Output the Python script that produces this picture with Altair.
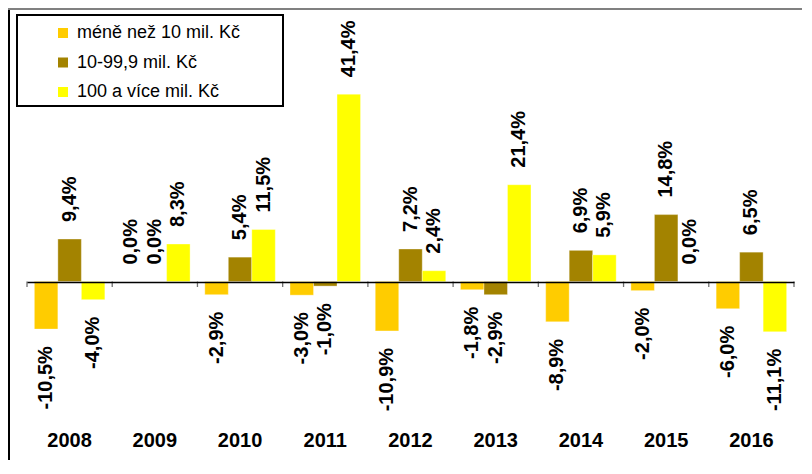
import altair as alt
import pandas as pd

years = ['2008', '2009', '2010', '2011', '2012', '2013', '2014', '2015', '2016']
series = ['méně než 10 mil. Kč', '10-99,9 mil. Kč', '100 a více mil. Kč']
small = [-10.5, 0.0, -2.9, -3.0, -10.9, -1.8, -8.9, -2.0, -6.0]
medium = [9.4, 0.0, 5.4, -1.0, 7.2, -2.9, 6.9, 14.8, 6.5]
large = [-4.0, 8.3, 11.5, 41.4, 2.4, 21.4, 5.9, 0.0, -11.1]
colors = ['#FFCC00', '#A38300', '#FFFF00']

rows = []
for s, vals in zip(series, [small, medium, large]):
    for y, v in zip(years, vals):
        rows.append({'rok': y, 'skupina': s, 'hodnota': v,
                     'popisek': f"{v:.1f}".replace('.', ',') + '%'})
df = pd.DataFrame(rows)
ydf = pd.DataFrame({'rok': years})
one = pd.DataFrame({'d': [0]})

W, H = 767, 430
FONT = 'Liberation Sans'

xaxis = alt.Axis(title=None, labelAngle=0, labelFontSize=20, labelFontWeight='bold',
                 labelColor='black', labelFont=FONT, domain=False, ticks=False,
                 labelPadding=0, labelBaseline='middle', grid=False)
yaxis = alt.Axis(title=None, values=[0], labels=False, ticks=False, domain=False,
                 grid=True, gridColor='black', gridWidth=1.6, gridOpacity=1, zindex=1)
xscale = alt.Scale(domain=years, paddingInner=0, paddingOuter=0)
yscale = alt.Scale(domain=[-35, 60], nice=False, zero=False)

X = alt.X('rok:N', scale=xscale, axis=xaxis)
Y = alt.Y('hodnota:Q', scale=yscale, axis=yaxis)
XO = alt.XOffset('skupina:N',
                 scale=alt.Scale(domain=series, paddingOuter=0.313, paddingInner=0))

legend = alt.Legend(orient='none', legendX=27, legendY=14, title=None,
                    labelFontSize=18, labelFont=FONT, labelColor='black',
                    symbolType='square', symbolSize=100, symbolStrokeWidth=0,
                    symbolOpacity=1, rowPadding=11.5, padding=0, labelOffset=5,
                    labelLimit=400)

bars = alt.Chart(df).mark_bar(opacity=1, stroke='white', strokeOpacity=0.35,
                              strokeWidth=1).encode(
    x=X, y=Y, xOffset=XO,
    color=alt.Color('skupina:N',
                    scale=alt.Scale(domain=series, range=colors), legend=legend),
)

pos_labels = alt.Chart(df).transform_filter('datum.hodnota >= 0').mark_text(
    angle=270, align='left', baseline='middle', dx=17, fontSize=20,
    fontWeight='bold', font=FONT, color='black'
).encode(x=X, y=Y, xOffset=XO, text='popisek:N')

neg_labels = alt.Chart(df).transform_filter('datum.hodnota < 0').mark_text(
    angle=270, align='right', baseline='middle', dx=-17, fontSize=20,
    fontWeight='bold', font=FONT, color='black'
).encode(x=X, y=Y, xOffset=XO, text='popisek:N')

ticks = alt.Chart(ydf).mark_rule(color='#707070', strokeWidth=1.3).encode(
    x=alt.X('rok:N', scale=xscale, axis=xaxis, bandPosition=0),
    y=alt.datum(0), y2=alt.datum(-1.2))

tick_end = alt.Chart(ydf).transform_filter('datum.rok == "2016"').mark_rule(
    color='#707070', strokeWidth=1.3).encode(
    x=alt.X('rok:N', scale=xscale, axis=xaxis, bandPosition=1),
    y=alt.datum(0), y2=alt.datum(-1.2))

legend_box = alt.Chart(one).mark_rect(fillOpacity=0, stroke='black', strokeWidth=2).encode(
    x=alt.value(-10), x2=alt.value(256), y=alt.value(5), y2=alt.value(96))

frame_left = alt.Chart(one).mark_rule(color='black', strokeWidth=2).encode(
    x=alt.value(-18), y=alt.value(-2), y2=alt.value(H + 20))

frame_top = alt.Chart(one).mark_rule(color='#808080', strokeWidth=2).encode(
    x=alt.value(-19), x2=alt.value(W + 8), y=alt.value(-1))

chart = alt.layer(
    bars, ticks, tick_end, pos_labels, neg_labels, legend_box, frame_left, frame_top
).properties(
    width=W, height=H,
    padding={'left': 19, 'top': 2, 'right': 8, 'bottom': 20},
    autosize='none', background='white'
).configure(font=FONT).configure_view(stroke=None)

chart.save("out.html", embed_options={"renderer": "svg", "actions": False})
